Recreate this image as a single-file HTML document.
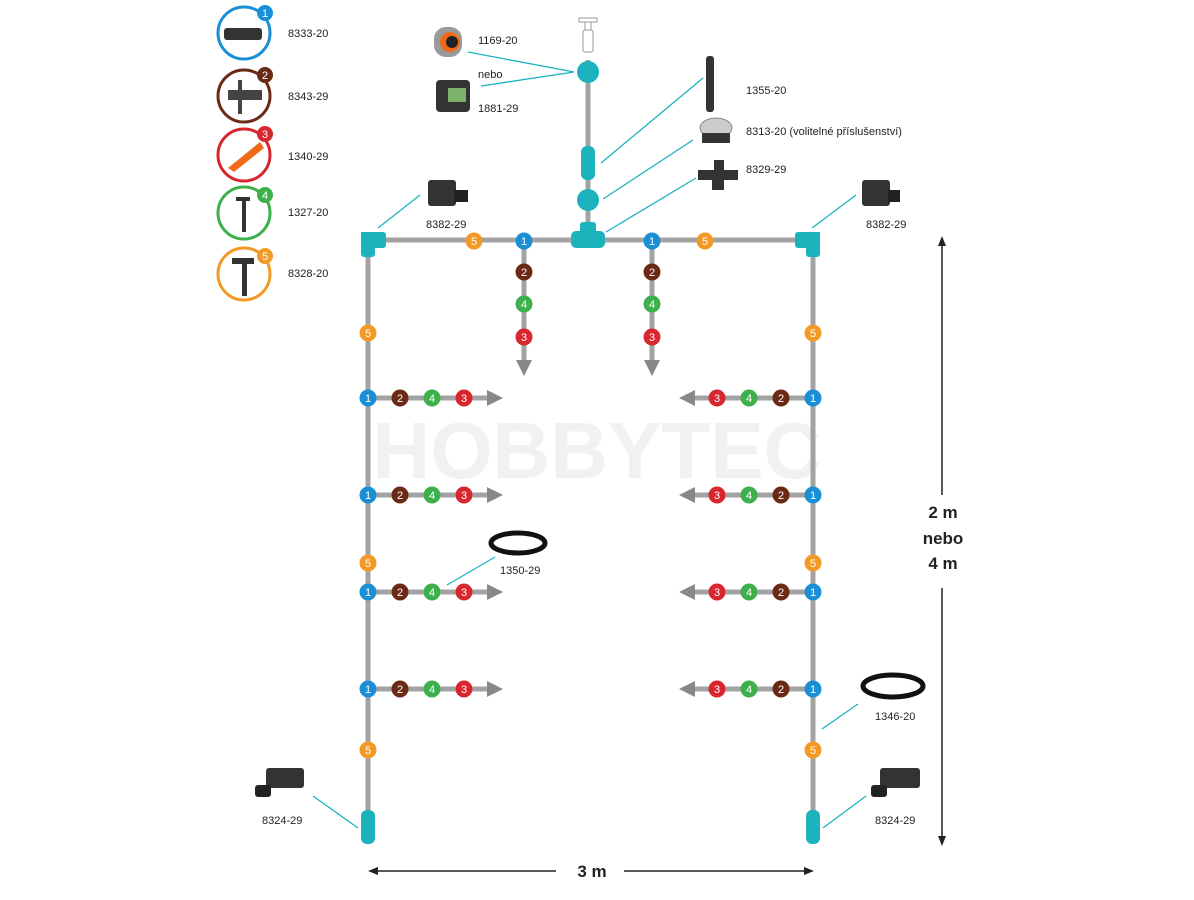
<!DOCTYPE html>
<html><head><meta charset="utf-8"><style>
html,body{margin:0;padding:0;background:#fff;}
svg{display:block;font-family:"Liberation Sans",sans-serif;}
.t{font-size:11px;fill:#222;}
.d text{font-size:11px;fill:#fff;text-anchor:middle;}
</style></head><body>
<svg width="1194" height="900" viewBox="0 0 1194 900">
<text x="597" y="478" font-size="80" font-weight="bold" fill="#f1f1f1" text-anchor="middle">HOBBYTEC</text>
<g stroke="#a3a3a3" stroke-width="5" fill="none">
<line x1="588" y1="60" x2="588" y2="240"/>
<line x1="368" y1="240" x2="813" y2="240"/>
<line x1="368" y1="240" x2="368" y2="830"/>
<line x1="813" y1="240" x2="813" y2="830"/>
<line x1="524" y1="240" x2="524" y2="362"/>
<line x1="652" y1="240" x2="652" y2="362"/>
<line x1="368" y1="398" x2="488" y2="398"/><line x1="368" y1="495" x2="488" y2="495"/>
<line x1="368" y1="592" x2="488" y2="592"/><line x1="368" y1="689" x2="488" y2="689"/>
<line x1="813" y1="398" x2="694" y2="398"/><line x1="813" y1="495" x2="694" y2="495"/>
<line x1="813" y1="592" x2="694" y2="592"/><line x1="813" y1="689" x2="694" y2="689"/>
</g>
<g fill="#888">
<polygon points="516,360 532,360 524,376"/><polygon points="644,360 660,360 652,376"/>
<polygon points="487,390 487,406 503,398"/><polygon points="487,487 487,503 503,495"/>
<polygon points="487,584 487,600 503,592"/><polygon points="487,681 487,697 503,689"/>
<polygon points="695,390 695,406 679,398"/><polygon points="695,487 695,503 679,495"/>
<polygon points="695,584 695,600 679,592"/><polygon points="695,681 695,697 679,689"/>
</g>
<!-- faucet -->
<g stroke="#999" fill="#fff" stroke-width="1">
<rect x="579" y="18" width="18" height="4"/><rect x="585" y="22" width="6" height="8"/><rect x="583" y="30" width="10" height="22" rx="2"/>
</g>
<!-- teal fittings -->
<g fill="#1cb3bd">
<circle cx="588" cy="72" r="11"/><rect x="581" y="146" width="14" height="34" rx="6"/><circle cx="588" cy="200" r="11"/>
<rect x="580" y="222" width="16" height="20" rx="3"/><rect x="571" y="231" width="34" height="17" rx="5"/>
<path d="M361 232 h22 a3 3 0 0 1 3 3 v10 a3 3 0 0 1 -3 3 h-8 v6 a3 3 0 0 1 -3 3 h-8 a3 3 0 0 1 -3 -3 z"/>
<path d="M820 232 h-22 a3 3 0 0 0 -3 3 v10 a3 3 0 0 0 3 3 h8 v6 a3 3 0 0 0 3 3 h8 a3 3 0 0 0 3 -3 z"/>
<rect x="361" y="810" width="14" height="34" rx="6"/><rect x="806" y="810" width="14" height="34" rx="6"/>
</g>
<!-- leader lines -->
<g stroke="#1cb3bd" stroke-width="1.3">
<line x1="468" y1="52" x2="574" y2="72"/><line x1="481" y1="86" x2="574" y2="72"/>
<line x1="703" y1="78" x2="601" y2="163"/><line x1="693" y1="140" x2="603" y2="199"/>
<line x1="696" y1="178" x2="606" y2="232"/>
<line x1="420" y1="195" x2="378" y2="228"/><line x1="856" y1="195" x2="812" y2="228"/>
<line x1="495" y1="557" x2="447" y2="585"/><line x1="858" y1="704" x2="822" y2="729"/>
<line x1="313" y1="796" x2="358" y2="828"/><line x1="866" y1="796" x2="823" y2="828"/>
</g>
<!-- product icons -->
<g>
<rect x="434" y="27" width="28" height="30" rx="12" fill="#999"/><circle cx="450" cy="42" r="10" fill="#f06a1a"/><circle cx="452" cy="42" r="6" fill="#222"/>
<rect x="436" y="80" width="34" height="32" rx="4" fill="#333"/><rect x="448" y="88" width="18" height="14" fill="#7bb36a"/>
<rect x="706" y="56" width="8" height="56" rx="3" fill="#333"/>
<ellipse cx="716" cy="128" rx="16" ry="10" fill="#ccc" stroke="#888"/><rect x="702" y="133" width="28" height="10" fill="#333"/>
<path d="M698 170 h40 v10 h-14 v10 h-12 v-10 h-14z" fill="#333"/><rect x="714" y="160" width="10" height="12" fill="#333"/>
<rect x="428" y="180" width="28" height="26" rx="3" fill="#333"/><rect x="454" y="190" width="14" height="12" fill="#222"/>
<rect x="862" y="180" width="28" height="26" rx="3" fill="#333"/><rect x="888" y="190" width="12" height="12" fill="#222"/>
<ellipse cx="518" cy="543" rx="27" ry="10" fill="none" stroke="#111" stroke-width="5"/>
<ellipse cx="893" cy="686" rx="30" ry="11" fill="none" stroke="#111" stroke-width="5"/>
<rect x="266" y="768" width="38" height="20" rx="3" fill="#333"/><rect x="255" y="785" width="16" height="12" rx="3" fill="#222"/>
<rect x="880" y="768" width="40" height="20" rx="3" fill="#333"/><rect x="871" y="785" width="16" height="12" rx="3" fill="#222"/>
</g>
<!-- legend -->
<g fill="none" stroke-width="3">
<circle cx="244" cy="33" r="26" stroke="#1a8fd6"/><circle cx="244" cy="96" r="26" stroke="#6b2a16"/>
<circle cx="244" cy="155" r="26" stroke="#d8262f"/><circle cx="244" cy="213" r="26" stroke="#3db04b"/>
<circle cx="244" cy="274" r="26" stroke="#f39a26"/>
</g>
<g>
<rect x="224" y="28" width="38" height="12" rx="3" fill="#333"/>
<rect x="228" y="90" width="34" height="10" fill="#444"/><rect x="238" y="80" width="4" height="34" fill="#444"/>
<path d="M228 168 L260 142 L264 148 L234 172z" fill="#f06a1a"/>
<rect x="242" y="198" width="4" height="34" fill="#333"/><rect x="236" y="197" width="14" height="4" fill="#333"/>
<rect x="242" y="260" width="5" height="36" fill="#333"/><rect x="232" y="258" width="22" height="6" fill="#333"/>
</g>
<g class="d">
<circle cx="265" cy="13" r="8" fill="#1a8fd6"/><text x="265" y="17">1</text>
<circle cx="265" cy="75" r="8" fill="#6b2a16"/><text x="265" y="79">2</text>
<circle cx="265" cy="134" r="8" fill="#d8262f"/><text x="265" y="138">3</text>
<circle cx="265" cy="195" r="8" fill="#3db04b"/><text x="265" y="199">4</text>
<circle cx="265" cy="256" r="8" fill="#f39a26"/><text x="265" y="260">5</text>
</g>
<g class="t">
<text x="288" y="37">8333-20</text><text x="288" y="100">8343-29</text><text x="288" y="160">1340-29</text>
<text x="288" y="216">1327-20</text><text x="288" y="277">8328-20</text>
<text x="478" y="44">1169-20</text><text x="478" y="78">nebo</text><text x="478" y="112">1881-29</text>
<text x="746" y="94">1355-20</text><text x="746" y="135">8313-20 (volitelné příslušenství)</text>
<text x="746" y="173">8329-29</text><text x="426" y="228">8382-29</text><text x="866" y="228">8382-29</text>
<text x="500" y="574">1350-29</text><text x="875" y="720">1346-20</text>
<text x="262" y="824">8324-29</text><text x="875" y="824">8324-29</text>
</g>
<!-- dots -->
<g class="d">
<g fill="#f39a26"><circle cx="474" cy="241" r="8.5"/><circle cx="705" cy="241" r="8.5"/><circle cx="368" cy="333" r="8.5"/><circle cx="368" cy="563" r="8.5"/><circle cx="368" cy="750" r="8.5"/><circle cx="813" cy="333" r="8.5"/><circle cx="813" cy="563" r="8.5"/><circle cx="813" cy="750" r="8.5"/></g>
<text x="474" y="245">5</text><text x="705" y="245">5</text><text x="368" y="337">5</text><text x="368" y="567">5</text><text x="368" y="754">5</text><text x="813" y="337">5</text><text x="813" y="567">5</text><text x="813" y="754">5</text>
<g fill="#1a8fd6"><circle cx="524" cy="241" r="8.5"/><circle cx="652" cy="241" r="8.5"/>
<circle cx="368" cy="398" r="8.5"/><circle cx="368" cy="495" r="8.5"/><circle cx="368" cy="592" r="8.5"/><circle cx="368" cy="689" r="8.5"/>
<circle cx="813" cy="398" r="8.5"/><circle cx="813" cy="495" r="8.5"/><circle cx="813" cy="592" r="8.5"/><circle cx="813" cy="689" r="8.5"/></g>
<text x="524" y="245">1</text><text x="652" y="245">1</text>
<text x="368" y="402">1</text><text x="368" y="499">1</text><text x="368" y="596">1</text><text x="368" y="693">1</text>
<text x="813" y="402">1</text><text x="813" y="499">1</text><text x="813" y="596">1</text><text x="813" y="693">1</text>
<g fill="#6b2a16"><circle cx="524" cy="272" r="8.5"/><circle cx="652" cy="272" r="8.5"/>
<circle cx="400" cy="398" r="8.5"/><circle cx="400" cy="495" r="8.5"/><circle cx="400" cy="592" r="8.5"/><circle cx="400" cy="689" r="8.5"/>
<circle cx="781" cy="398" r="8.5"/><circle cx="781" cy="495" r="8.5"/><circle cx="781" cy="592" r="8.5"/><circle cx="781" cy="689" r="8.5"/></g>
<text x="524" y="276">2</text><text x="652" y="276">2</text>
<text x="400" y="402">2</text><text x="400" y="499">2</text><text x="400" y="596">2</text><text x="400" y="693">2</text>
<text x="781" y="402">2</text><text x="781" y="499">2</text><text x="781" y="596">2</text><text x="781" y="693">2</text>
<g fill="#3db04b"><circle cx="524" cy="304" r="8.5"/><circle cx="652" cy="304" r="8.5"/>
<circle cx="432" cy="398" r="8.5"/><circle cx="432" cy="495" r="8.5"/><circle cx="432" cy="592" r="8.5"/><circle cx="432" cy="689" r="8.5"/>
<circle cx="749" cy="398" r="8.5"/><circle cx="749" cy="495" r="8.5"/><circle cx="749" cy="592" r="8.5"/><circle cx="749" cy="689" r="8.5"/></g>
<text x="524" y="308">4</text><text x="652" y="308">4</text>
<text x="432" y="402">4</text><text x="432" y="499">4</text><text x="432" y="596">4</text><text x="432" y="693">4</text>
<text x="749" y="402">4</text><text x="749" y="499">4</text><text x="749" y="596">4</text><text x="749" y="693">4</text>
<g fill="#d8262f"><circle cx="524" cy="337" r="8.5"/><circle cx="652" cy="337" r="8.5"/>
<circle cx="464" cy="398" r="8.5"/><circle cx="464" cy="495" r="8.5"/><circle cx="464" cy="592" r="8.5"/><circle cx="464" cy="689" r="8.5"/>
<circle cx="717" cy="398" r="8.5"/><circle cx="717" cy="495" r="8.5"/><circle cx="717" cy="592" r="8.5"/><circle cx="717" cy="689" r="8.5"/></g>
<text x="524" y="341">3</text><text x="652" y="341">3</text>
<text x="464" y="402">3</text><text x="464" y="499">3</text><text x="464" y="596">3</text><text x="464" y="693">3</text>
<text x="717" y="402">3</text><text x="717" y="499">3</text><text x="717" y="596">3</text><text x="717" y="693">3</text>
</g>
<!-- dimensions -->
<g stroke="#222" stroke-width="1.5">
<line x1="376" y1="871" x2="556" y2="871"/><line x1="624" y1="871" x2="806" y2="871"/>
<line x1="942" y1="244" x2="942" y2="495"/><line x1="942" y1="588" x2="942" y2="838"/>
</g>
<g fill="#222">
<polygon points="368,871 378,867 378,875"/><polygon points="814,871 804,867 804,875"/>
<polygon points="942,236 938,246 946,246"/><polygon points="942,846 938,836 946,836"/>
</g>
<g font-size="17" font-weight="bold" fill="#222" text-anchor="middle">
<text x="592" y="877">3 m</text>
<text x="943" y="518">2 m</text><text x="943" y="544">nebo</text><text x="943" y="569">4 m</text>
</g>
</svg>
</body></html>
